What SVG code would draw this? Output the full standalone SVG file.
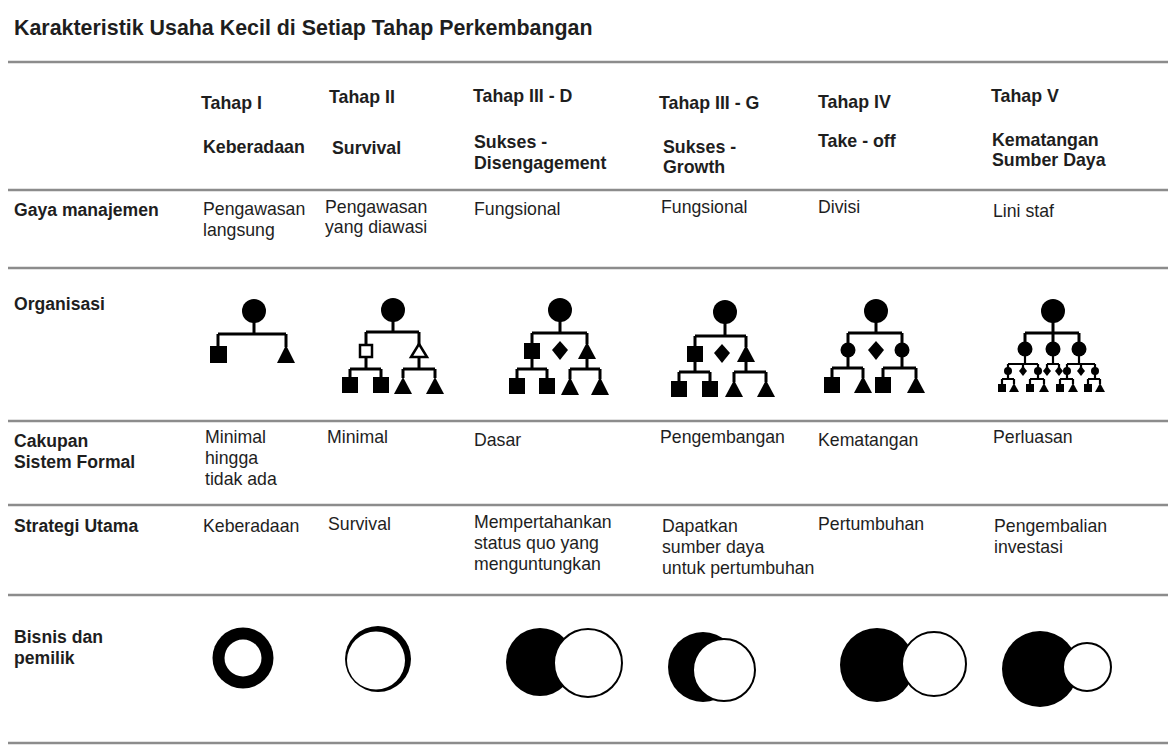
<svg xmlns="http://www.w3.org/2000/svg" width="1168" height="756" viewBox="0 0 1168 756">
<style>
text{font-family:"Liberation Sans",Arial,sans-serif;fill:#1e1e1e}
.t{font-size:21.4px;font-weight:bold}
.h{font-size:17.8px;font-weight:bold}
.lb{font-size:17.6px;font-weight:bold}
.b{font-size:17.7px}
.rule{stroke:#8c8c8c;stroke-width:2.5}
.ln{stroke:#000;stroke-width:3;fill:none}
.k{fill:#000}
.o{fill:#fff;stroke:#000;stroke-width:2.5}
.ow{fill:#fff;stroke:#000;stroke-width:2}
</style>
<rect width="1168" height="756" fill="#fff"/>
<text class="t" x="14" y="35">Karakteristik Usaha Kecil di Setiap Tahap Perkembangan</text>
<g id="rules">
<line class="rule" x1="8" y1="62" x2="1168" y2="62"/>
<line class="rule" x1="8" y1="190" x2="1168" y2="190"/>
<line class="rule" x1="8" y1="268" x2="1168" y2="268"/>
<line class="rule" x1="8" y1="421" x2="1168" y2="421"/>
<line class="rule" x1="8" y1="505" x2="1168" y2="505"/>
<line class="rule" x1="8" y1="595" x2="1168" y2="595"/>
<line class="rule" x1="8" y1="743" x2="1168" y2="743"/>
</g>
<g id="header">
<text class="h" x="201" y="109">Tahap I</text>
<text class="h" x="329" y="103">Tahap II</text>
<text class="h" x="473" y="102">Tahap III - D</text>
<text class="h" x="659" y="109">Tahap III - G</text>
<text class="h" x="818" y="108">Tahap IV</text>
<text class="h" x="991" y="102">Tahap V</text>
<text class="h" x="203" y="153">Keberadaan</text>
<text class="h" x="332" y="154">Survival</text>
<text class="h" x="474" y="148">Sukses -</text>
<text class="h" x="474" y="169">Disengagement</text>
<text class="h" x="663" y="153">Sukses -</text>
<text class="h" x="663" y="173">Growth</text>
<text class="h" x="818" y="147">Take - off</text>
<text class="h" x="992" y="146">Kematangan</text>
<text class="h" x="992" y="166">Sumber Daya</text>
</g>
<g id="row-gaya">
<text class="lb" x="14" y="216">Gaya manajemen</text>
<text class="b" x="203" y="215">Pengawasan</text>
<text class="b" x="203" y="236">langsung</text>
<text class="b" x="325" y="213">Pengawasan</text>
<text class="b" x="325" y="233">yang diawasi</text>
<text class="b" x="474" y="215">Fungsional</text>
<text class="b" x="661" y="213">Fungsional</text>
<text class="b" x="818" y="213">Divisi</text>
<text class="b" x="993" y="217">Lini staf</text>
</g>
<g id="row-organisasi">
<text class="lb" x="14" y="310">Organisasi</text>
<g id="org1">
<circle class="k" cx="254" cy="311" r="12"/>
<path class="ln" d="M254 320V334M218 334H286M218 334V347M286 334V347"/>
<rect class="k" x="210" y="346" width="17" height="17"/>
<polygon class="k" points="286,345 277,363 295,363"/>
</g>
<g id="org2">
<circle class="k" cx="393" cy="310" r="12"/>
<path class="ln" d="M393 319V332M366 332H419M366 332V345M419 332V345M366 357V369M350 369H381M350 369V378M381 369V378M419 357V369M403 369H435M403 369V378M435 369V378"/>
<rect class="o" x="360" y="345" width="12" height="12"/>
<polygon class="o" points="419,344 411,357 427,357"/>
<rect class="k" x="342" y="377" width="16" height="16"/>
<rect class="k" x="373" y="377" width="16" height="16"/>
<polygon class="k" points="403,377 394,394 412,394"/>
<polygon class="k" points="435,377 426,394 444,394"/>
</g>
<g id="org3">
<circle class="k" cx="560" cy="310" r="12"/>
<path class="ln" d="M560 319V333M532 333H587M532 333V344M587 333V344M532 358V369M517 369H547M517 369V379M547 369V379M587 358V369M570 369H600M570 369V379M600 369V379"/>
<rect class="k" x="524" y="343" width="16" height="16"/>
<polygon class="k" points="560,341 568,350 560,360 552,350"/>
<polygon class="k" points="587,342 578,359 596,359"/>
<rect class="k" x="509" y="378" width="16" height="16"/>
<rect class="k" x="539" y="378" width="16" height="16"/>
<polygon class="k" points="570,377 561,395 579,395"/>
<polygon class="k" points="600,377 591,395 609,395"/>
</g>
<g id="org4">
<circle class="k" cx="725" cy="312" r="12"/>
<path class="ln" d="M725 321V336M695 336H746M695 336V347M746 336V347M695 361V372M679 372H710M679 372V382M710 372V382M746 361V372M734 372H766M734 372V382M766 372V382"/>
<rect class="k" x="687" y="346" width="16" height="16"/>
<polygon class="k" points="722,344 730,353 722,363 714,353"/>
<polygon class="k" points="746,345 737,362 755,362"/>
<rect class="k" x="671" y="381" width="16" height="16"/>
<rect class="k" x="702" y="381" width="16" height="16"/>
<polygon class="k" points="734,380 725,397 743,397"/>
<polygon class="k" points="766,380 757,397 775,397"/>
</g>
<g id="org5">
<circle class="k" cx="876" cy="311" r="12"/>
<path class="ln" d="M876 320V333M848 333H902M848 333V346M902 333V346M848 356V368M832 368H863M832 368V378M863 368V378M902 356V368M883 368H916M883 368V378M916 368V378"/>
<circle class="k" cx="848" cy="350" r="7.5"/>
<polygon class="k" points="876,341 884,350 876,360 868,350"/>
<circle class="k" cx="902" cy="350" r="7.5"/>
<rect class="k" x="824" y="377" width="16" height="16"/>
<polygon class="k" points="863,376 854,393 872,393"/>
<rect class="k" x="875" y="377" width="16" height="16"/>
<polygon class="k" points="916,376 907,393 925,393"/>
</g>
<g id="org6">
<circle class="k" cx="1053" cy="311" r="12"/>
<path class="ln" d="M1053 320V333M1025 333H1079M1025 333V345M1053 333V345M1079 333V345"/>
<circle class="k" cx="1025" cy="349" r="7.5"/>
<circle class="k" cx="1053" cy="349" r="7.5"/>
<circle class="k" cx="1079" cy="349" r="7.5"/>
<path class="ln" style="stroke-width:2.2" d="M1025 355V364M1008 364H1038M1008 364V368M1023 364V368M1038 364V368M1053 355V364M1047 364H1059M1047 364V368M1059 364V368M1079 355V364M1067 364H1095M1067 364V368M1081 364V368M1095 364V368M1008 374V379M1002 379H1014M1002 379V384M1014 379V384M1038 374V379M1030 379H1044M1030 379V384M1044 379V384M1067 374V379M1060 379H1073M1060 379V384M1073 379V384M1095 374V379M1088 379H1100M1088 379V384M1100 379V384"/>
<circle class="k" cx="1008" cy="371" r="4"/>
<polygon class="k" points="1023,366 1027,371 1023,376 1019,371"/>
<circle class="k" cx="1038" cy="371" r="4"/>
<polygon class="k" points="1047,366 1051,371 1047,376 1043,371"/>
<polygon class="k" points="1059,366 1063,371 1059,376 1055,371"/>
<circle class="k" cx="1067" cy="371" r="4"/>
<polygon class="k" points="1081,366 1085,371 1081,376 1077,371"/>
<circle class="k" cx="1095" cy="371" r="4"/>
<rect class="k" x="998" y="384" width="8" height="8"/>
<polygon class="k" points="1014,383 1009,392 1019,392"/>
<rect class="k" x="1026" y="384" width="8" height="8"/>
<polygon class="k" points="1044,383 1039,392 1049,392"/>
<rect class="k" x="1056" y="384" width="8" height="8"/>
<polygon class="k" points="1073,383 1068,392 1078,392"/>
<rect class="k" x="1084" y="384" width="8" height="8"/>
<polygon class="k" points="1100,383 1095,392 1105,392"/>
</g>
</g>
<g id="row-cakupan">
<text class="lb" x="14" y="447">Cakupan</text>
<text class="lb" x="14" y="468">Sistem Formal</text>
<text class="b" x="205" y="443">Minimal</text>
<text class="b" x="205" y="464">hingga</text>
<text class="b" x="205" y="485">tidak ada</text>
<text class="b" x="327" y="443">Minimal</text>
<text class="b" x="474" y="446">Dasar</text>
<text class="b" x="660" y="443">Pengembangan</text>
<text class="b" x="818" y="446">Kematangan</text>
<text class="b" x="993" y="443">Perluasan</text>
</g>
<g id="row-strategi">
<text class="lb" x="14" y="532">Strategi Utama</text>
<text class="b" x="203" y="532">Keberadaan</text>
<text class="b" x="328" y="530">Survival</text>
<text class="b" x="474" y="528">Mempertahankan</text>
<text class="b" x="474" y="549">status quo yang</text>
<text class="b" x="474" y="570">menguntungkan</text>
<text class="b" x="662" y="532">Dapatkan</text>
<text class="b" x="662" y="553">sumber daya</text>
<text class="b" x="662" y="574">untuk pertumbuhan</text>
<text class="b" x="818" y="530">Pertumbuhan</text>
<text class="b" x="994" y="532">Pengembalian</text>
<text class="b" x="994" y="553">investasi</text>
</g>
<g id="row-bisnis">
<text class="lb" x="14" y="643">Bisnis dan</text>
<text class="lb" x="14" y="664">pemilik</text>
<g id="c1"><circle class="k" cx="243" cy="658" r="30.5"/><circle fill="#fff" cx="243" cy="658" r="18.5"/></g>
<g id="c2"><circle class="k" cx="378" cy="659" r="33"/><circle fill="#fff" cx="376" cy="660.5" r="29"/></g>
<g id="c3"><circle class="k" cx="540" cy="662" r="34"/><circle class="ow" cx="588" cy="663" r="34"/></g>
<g id="c4"><circle class="k" cx="703" cy="667" r="35"/><circle class="ow" cx="724" cy="670" r="31"/></g>
<g id="c5"><circle class="k" cx="877" cy="665" r="37"/><circle class="ow" cx="934" cy="664" r="32"/></g>
<g id="c6"><circle class="k" cx="1040" cy="669" r="38"/><circle class="ow" cx="1087" cy="667" r="24"/></g>
</g>
</svg>
